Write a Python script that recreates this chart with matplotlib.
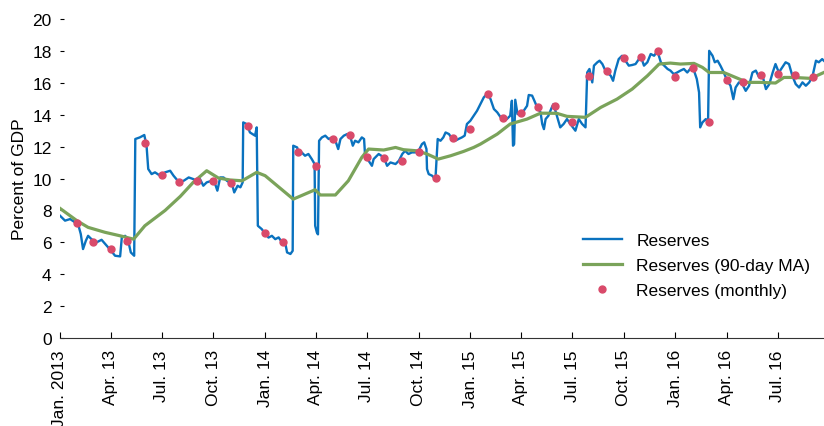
import numpy as np
import pandas as pd
import matplotlib
matplotlib.use("Agg")
import matplotlib.pyplot as plt
import matplotlib.dates as mdates

plt.rcParams['font.family'] = ['Liberation Sans Narrow', 'Liberation Sans', 'DejaVu Sans']

start = pd.Timestamp('2013-01-01')

# daily reserves (days since Jan 1 2013, percent of GDP)
res_days = [0, 9, 18, 27, 33, 37, 41, 46, 50, 56, 65, 74, 83, 91, 98, 107, 110, 116, 122, 126,
            132, 134, 142, 150, 154, 157, 163, 169, 178, 187, 196, 202, 211, 220, 229, 237, 243, 249,
            255, 261, 270, 276, 280, 285, 291, 297, 306, 310, 316, 321, 325, 326, 332, 338, 347, 350,
            352, 359, 364, 371, 377, 383, 389, 395, 400, 404, 410, 414, 415, 422, 424, 430, 436, 442,
            448, 453, 454, 457, 459, 461, 466, 472, 478, 484, 490, 495, 499, 505, 511, 516, 521, 525,
            531, 537, 541, 543, 549, 555, 558, 567, 576, 582, 588, 597, 603, 609, 614, 620, 626, 632,
            638, 644, 648, 652, 653, 656, 662, 668, 672, 677, 682, 686, 692, 698, 703, 709, 715, 720,
            724, 730, 736, 742, 748, 754, 760, 766, 772, 778, 784, 789, 795, 801, 804, 806, 808, 810,
            814, 819, 825, 831, 834, 840, 844, 849, 855, 858, 861, 864, 869, 875, 878, 884, 890, 896,
            902, 908, 917, 923, 929, 935, 938, 942, 947, 950, 956, 960, 965, 969, 974, 980, 984, 988,
            994, 1000, 1006, 1012, 1018, 1024, 1030, 1033, 1039, 1045, 1051, 1057, 1063, 1069, 1075,
            1081, 1086, 1092, 1098, 1104, 1110, 1116, 1122, 1128, 1133, 1137, 1139, 1143, 1149, 1153,
            1155, 1161, 1165, 1170, 1175, 1181, 1187, 1193, 1198, 1202, 1208, 1214, 1220, 1226, 1232,
            1238, 1244, 1250, 1256, 1262, 1268, 1273, 1279, 1285, 1291, 1297, 1303, 1309, 1315, 1321,
            1327, 1333, 1339, 1345, 1350, 1356, 1359]
res_vals = [7.67, 7.36, 7.46, 7.25, 7.04, 6.52, 5.58, 6.1, 6.41, 6.2, 6.0, 6.16, 5.79, 5.47, 5.16,
            5.12, 6.31, 6.41, 6.0, 5.37, 5.16, 12.48, 12.58, 12.73, 12.06, 10.6, 10.28, 10.39, 10.18,
            10.39, 10.49, 10.18, 9.8, 9.86, 10.07, 9.97, 9.86, 9.97, 9.55, 9.76, 9.86, 9.66, 9.24,
            10.07, 10.07, 9.86, 9.66, 9.13, 9.55, 9.45, 9.76, 13.52, 13.42, 12.89, 12.69, 13.21,
            7.04, 6.83, 6.58, 6.3, 6.41, 6.2, 6.31, 6.0, 6.1, 5.37, 5.27, 5.47, 12.06, 11.95, 11.68,
            11.64, 11.43, 11.54, 11.22, 10.91, 7.04, 6.62, 6.5, 12.37, 12.58, 12.69, 12.48, 12.58,
            12.37, 11.85, 12.48, 12.69, 12.79, 12.69, 12.06, 12.37, 12.27, 12.58, 12.48, 11.33,
            11.12, 10.8, 11.22, 11.54, 11.33, 10.8, 11.01, 10.91, 11.12, 11.54, 11.74, 11.54, 11.64,
            11.64, 11.74, 12.16, 12.27, 11.85, 10.6, 10.28, 10.18, 9.97, 12.48, 12.37, 12.58, 12.89,
            12.79, 12.48, 12.37, 12.48, 12.58, 12.69, 13.42, 13.62, 13.94, 14.25, 14.67, 15.09,
            15.32, 14.98, 14.36, 14.15, 13.84, 13.77, 13.73, 13.94, 14.88, 12.06, 12.16, 14.94,
            14.04, 14.15, 14.25, 14.56, 15.24, 15.2, 14.88, 14.46, 14.15, 13.42, 13.1, 13.73, 13.94,
            14.46, 14.67, 13.94, 13.21, 13.42, 13.73, 13.42, 13.0, 13.73, 13.42, 13.21, 16.65, 16.87,
            16.03, 17.08, 17.29, 17.39, 17.18, 16.87, 16.65, 16.44, 16.13, 16.77, 17.49, 17.7, 17.39,
            17.08, 17.12, 17.18, 17.49, 17.7, 17.08, 17.29, 17.81, 17.7, 17.99, 17.29, 17.08, 16.87,
            16.77, 16.55, 16.65, 16.77, 16.87, 16.65, 16.91, 16.77, 16.24, 15.4, 13.21, 13.52, 13.73,
            13.52, 18.01, 17.7, 17.29, 17.39, 17.08, 16.65, 16.13, 15.82, 14.98, 15.71, 16.03, 15.92,
            15.5, 15.82, 16.65, 16.77, 16.34, 16.44, 15.61, 15.92, 16.65, 17.18, 16.65, 16.97, 17.29,
            17.18, 16.44, 15.92, 15.71, 16.03, 15.82, 16.03, 16.44, 17.39, 17.29, 17.49, 17.39]

# 90-day moving average
ma_days = [0, 30, 50, 80, 107, 131, 151, 187, 214, 237, 261, 282, 303, 324, 350, 365, 415, 454,
           463, 490, 513, 537, 549, 576, 597, 611, 635, 653, 673, 695, 718, 736, 748, 778, 801,
           831, 855, 884, 902, 935, 962, 991, 1018, 1045, 1066, 1086, 1104, 1128, 1143, 1155,
           1181, 1202, 1223, 1247, 1273, 1288, 1306, 1336, 1359]
ma_vals = [8.13, 7.36, 6.94, 6.63, 6.41, 6.2, 7.04, 8.0, 8.88, 9.76, 10.49, 10.03, 9.91, 9.86,
           10.39, 10.18, 8.71, 9.3, 8.97, 8.97, 9.86, 11.33, 11.85, 11.79, 11.95, 11.81, 11.74,
           11.54, 11.22, 11.43, 11.7, 11.95, 12.16, 12.79, 13.42, 13.73, 14.1, 14.09, 13.9, 13.84,
           14.46, 14.98, 15.61, 16.44, 17.18, 17.24, 17.18, 17.22, 16.97, 16.65, 16.65, 16.34,
           16.03, 16.03, 15.99, 16.34, 16.34, 16.28, 16.65]

# monthly values, Feb 2013 - Sep 2016
monthly_vals = [7.19, 6.0, 5.58, 6.06, 12.25, 10.22, 9.76, 9.82, 9.82, 9.72, 13.31, 6.58,
                6.0, 11.68, 10.8, 12.48, 12.73, 11.37, 11.3, 11.08, 11.64, 10.05, 12.54, 13.1,
                15.32, 13.79, 14.13, 14.46, 14.55, 13.52, 16.43, 16.74, 17.54, 17.62, 17.99, 16.38,
                16.91, 13.52, 16.2, 16.05, 16.51, 16.53, 16.51, 16.36]

tick_labels = ['Jan. 2013', 'Apr. 13', 'Jul. 13', 'Oct. 13', 'Jan. 14', 'Apr. 14', 'Jul. 14',
               'Oct. 14', 'Jan. 15', 'Apr. 15', 'Jul. 15', 'Oct. 15', 'Jan. 16', 'Apr. 16', 'Jul. 16']

res_dates = start + pd.to_timedelta(res_days, unit='D')
ma_dates = start + pd.to_timedelta(ma_days, unit='D')
monthly_dates = pd.date_range('2013-02-01', periods=len(monthly_vals), freq='MS')
tick_dates = pd.date_range('2013-01-01', periods=len(tick_labels), freq='QS')

fig = plt.figure(figsize=(8.24, 4.27), dpi=100)
ax = fig.add_axes([0.0728, 0.206, 0.927, 0.747])

ax.plot(res_dates, res_vals, color='#0a72bf', lw=1.7, label='Reserves', zorder=2)
ax.plot(ma_dates, ma_vals, color='#7aa35a', lw=2.3, label='Reserves (90-day MA)', zorder=3)
ax.plot(monthly_dates, monthly_vals, 'o', color='#d94a6a', ms=5, label='Reserves (monthly)', zorder=4)

ax.set_xlim(start, res_dates[-1])
ax.set_ylim(0, 20)
ax.set_yticks(range(0, 21, 2))
ax.set_xticks(tick_dates)
ax.set_xticklabels(tick_labels, rotation=90)
ax.tick_params(axis='x', direction='in', length=4, labelsize=12.5, pad=8)
ax.tick_params(axis='y', direction='in', length=3, labelsize=12.5, pad=6)
for s in ['top', 'right', 'left']:
    ax.spines[s].set_visible(False)
ax.spines['bottom'].set_color('#333333')
ax.set_ylabel('Percent of GDP', fontsize=12.5)

ax.legend(loc='upper left', bbox_to_anchor=(0.675, 0.35), frameon=False, fontsize=12.5,
          handlelength=2.3, labelspacing=0.55, borderaxespad=0)

fig.savefig('out.png', dpi=100)
